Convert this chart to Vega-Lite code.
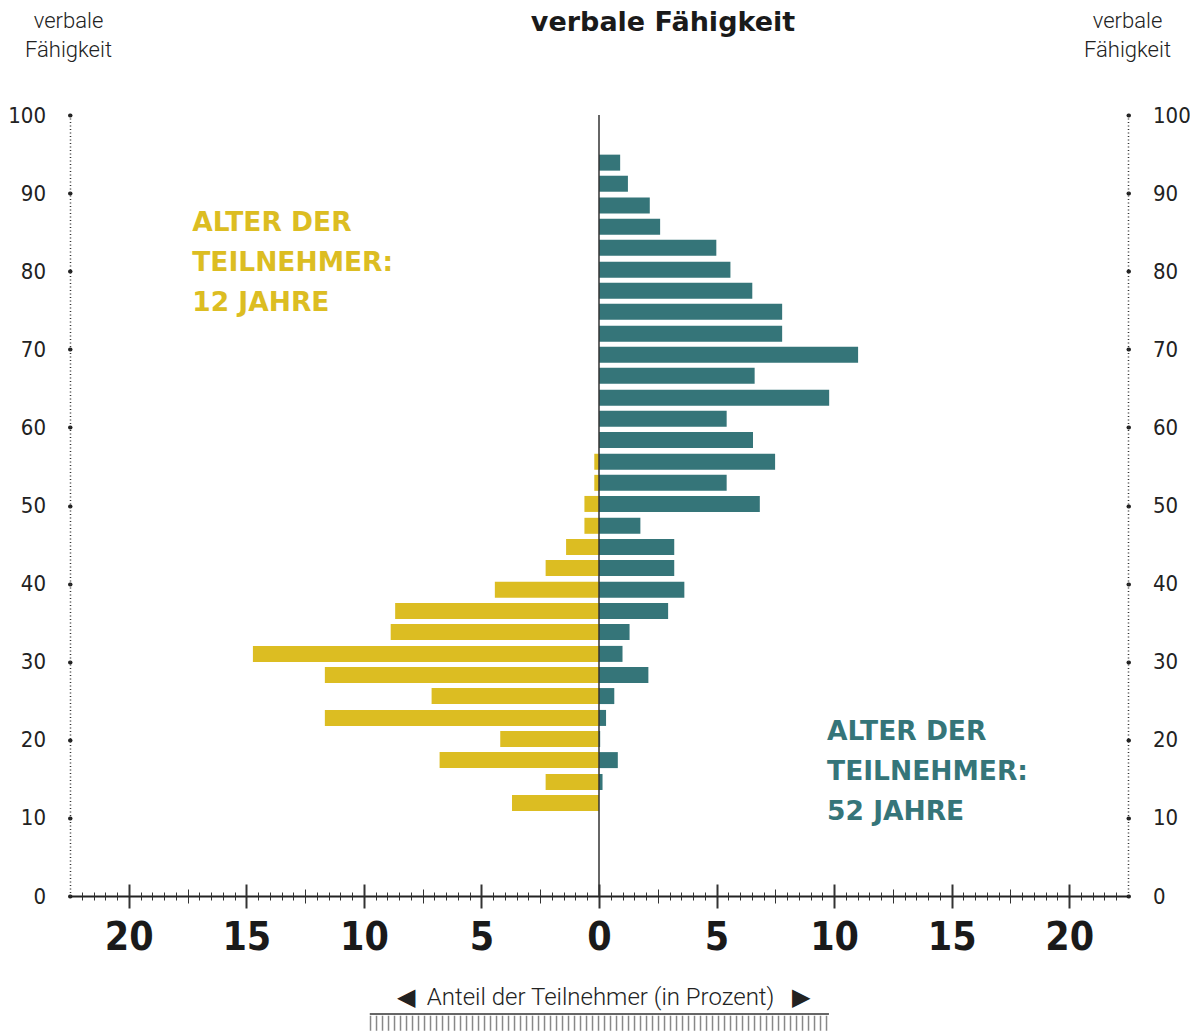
{
  "$schema": "https://vega.github.io/schema/vega-lite/v6.json",
  "width": 1058,
  "height": 781,
  "autosize": {"type": "none"},
  "padding": {"left": 70, "top": 115, "right": 62, "bottom": 135},
  "background": "white",
  "config": {"view": {"stroke": null}},
  "title": {"text": "verbale Fähigkeit", "font": "DejaVu Sans", "fontSize": 27, "fontWeight": "bold", "color": "#1a1a1a", "anchor": "middle", "frame": "group", "dx": 64, "offset": -49, "baseline": "alphabetic"},
  "datasets": {
    "anteile": [
      {"faehigkeit": 93.9, "anteil": 0.9, "alter": "52 Jahre"},
      {"faehigkeit": 91.2, "anteil": 1.23, "alter": "52 Jahre"},
      {"faehigkeit": 88.4, "anteil": 2.16, "alter": "52 Jahre"},
      {"faehigkeit": 85.7, "anteil": 2.6, "alter": "52 Jahre"},
      {"faehigkeit": 83.0, "anteil": 4.99, "alter": "52 Jahre"},
      {"faehigkeit": 80.2, "anteil": 5.59, "alter": "52 Jahre"},
      {"faehigkeit": 77.5, "anteil": 6.52, "alter": "52 Jahre"},
      {"faehigkeit": 74.8, "anteil": 7.79, "alter": "52 Jahre"},
      {"faehigkeit": 72.0, "anteil": 7.79, "alter": "52 Jahre"},
      {"faehigkeit": 69.3, "anteil": 11.02, "alter": "52 Jahre"},
      {"faehigkeit": 66.6, "anteil": 6.62, "alter": "52 Jahre"},
      {"faehigkeit": 63.8, "anteil": 9.79, "alter": "52 Jahre"},
      {"faehigkeit": 61.1, "anteil": 5.43, "alter": "52 Jahre"},
      {"faehigkeit": 58.4, "anteil": 6.55, "alter": "52 Jahre"},
      {"faehigkeit": 55.6, "anteil": 7.49, "alter": "52 Jahre"},
      {"faehigkeit": 52.9, "anteil": 5.43, "alter": "52 Jahre"},
      {"faehigkeit": 50.2, "anteil": 6.84, "alter": "52 Jahre"},
      {"faehigkeit": 47.4, "anteil": 1.76, "alter": "52 Jahre"},
      {"faehigkeit": 44.7, "anteil": 3.2, "alter": "52 Jahre"},
      {"faehigkeit": 42.0, "anteil": 3.2, "alter": "52 Jahre"},
      {"faehigkeit": 39.2, "anteil": 3.63, "alter": "52 Jahre"},
      {"faehigkeit": 36.5, "anteil": 2.94, "alter": "52 Jahre"},
      {"faehigkeit": 33.8, "anteil": 1.3, "alter": "52 Jahre"},
      {"faehigkeit": 31.0, "anteil": 1.0, "alter": "52 Jahre"},
      {"faehigkeit": 28.3, "anteil": 2.1, "alter": "52 Jahre"},
      {"faehigkeit": 25.6, "anteil": 0.65, "alter": "52 Jahre"},
      {"faehigkeit": 22.8, "anteil": 0.3, "alter": "52 Jahre"},
      {"faehigkeit": 20.1, "anteil": 0.05, "alter": "52 Jahre"},
      {"faehigkeit": 17.4, "anteil": 0.8, "alter": "52 Jahre"},
      {"faehigkeit": 14.6, "anteil": 0.15, "alter": "52 Jahre"},
      {"faehigkeit": 55.6, "anteil": -0.2, "alter": "12 Jahre"},
      {"faehigkeit": 52.9, "anteil": -0.2, "alter": "12 Jahre"},
      {"faehigkeit": 50.2, "anteil": -0.62, "alter": "12 Jahre"},
      {"faehigkeit": 47.4, "anteil": -0.62, "alter": "12 Jahre"},
      {"faehigkeit": 44.7, "anteil": -1.4, "alter": "12 Jahre"},
      {"faehigkeit": 42.0, "anteil": -2.27, "alter": "12 Jahre"},
      {"faehigkeit": 39.2, "anteil": -4.43, "alter": "12 Jahre"},
      {"faehigkeit": 36.5, "anteil": -8.67, "alter": "12 Jahre"},
      {"faehigkeit": 33.8, "anteil": -8.86, "alter": "12 Jahre"},
      {"faehigkeit": 31.0, "anteil": -14.72, "alter": "12 Jahre"},
      {"faehigkeit": 28.3, "anteil": -11.66, "alter": "12 Jahre"},
      {"faehigkeit": 25.6, "anteil": -7.12, "alter": "12 Jahre"},
      {"faehigkeit": 22.8, "anteil": -11.66, "alter": "12 Jahre"},
      {"faehigkeit": 20.1, "anteil": -4.2, "alter": "12 Jahre"},
      {"faehigkeit": 17.4, "anteil": -6.78, "alter": "12 Jahre"},
      {"faehigkeit": 14.6, "anteil": -2.27, "alter": "12 Jahre"},
      {"faehigkeit": 11.9, "anteil": -3.7, "alter": "12 Jahre"}
    ]
  },
  "layer": [
    {
      "data": {"name": "anteile"},
      "mark": {"type": "bar", "orient": "horizontal", "size": 16},
      "encoding": {
        "y": {
          "field": "faehigkeit", "type": "quantitative",
          "scale": {"domain": [0, 100], "nice": false, "padding": 0},
          "axis": {
            "orient": "left", "values": [0, 10, 20, 30, 40, 50, 60, 70, 80, 90, 100], "grid": false,
            "domainDash": [1, 2.5], "domainColor": "#333", "domainWidth": 1.5,
            "tickSize": 0.5, "tickWidth": 4, "tickCap": "round", "tickColor": "#222",
            "labelFont": "DejaVu Sans Condensed", "labelFontSize": 22, "labelColor": "#222", "labelPadding": 24,
            "title": ["verbale", "Fähigkeit"], "titleAngle": 0, "titleAlign": "center", "titleBaseline": "alphabetic",
            "titleX": -2, "titleY": -88, "titleFont": "Roboto", "titleFontWeight": 300, "titleFontSize": 22, "titleLineHeight": 29, "titleColor": "#222"
          }
        },
        "x": {
          "field": "anteil", "type": "quantitative",
          "scale": {"domain": [-22.5, 22.5], "nice": false, "padding": 0},
          "axis": {
            "orient": "bottom",
            "values": [-22,-21.5,-21,-20.5,-20,-19.5,-19,-18.5,-18,-17.5,-17,-16.5,-16,-15.5,-15,-14.5,-14,-13.5,-13,-12.5,-12,-11.5,-11,-10.5,-10,-9.5,-9,-8.5,-8,-7.5,-7,-6.5,-6,-5.5,-5,-4.5,-4,-3.5,-3,-2.5,-2,-1.5,-1,-0.5,0,0.5,1,1.5,2,2.5,3,3.5,4,4.5,5,5.5,6,6.5,7,7.5,8,8.5,9,9.5,10,10.5,11,11.5,12,12.5,13,13.5,14,14.5,15,15.5,16,16.5,17,17.5,18,18.5,19,19.5,20,20.5,21,21.5,22],
            "grid": false,
            "domainColor": "#222", "domainWidth": 2,
            "tickColor": "#333",
            "tickSize": {"condition": [{"test": "datum.value % 5 === 0", "value": 12}, {"test": "datum.value % 2.5 === 0", "value": 7}], "value": 4},
            "tickWidth": {"condition": {"test": "datum.value % 5 === 0", "value": 2}, "value": 1},
            "labelExpr": "datum.value % 5 === 0 ? '' + abs(datum.value) : ''",
            "labelOverlap": false, "labelFlush": false,
            "labelFont": "DejaVu Sans Condensed", "labelFontWeight": "bold", "labelFontSize": 39, "labelColor": "#1a1a1a", "labelPadding": 10,
            "title": "◀\u00a0 Anteil der Teilnehmer (in Prozent) \u00a0\u00a0▶",
            "titleFont": "Roboto", "titleFontWeight": 300, "titleFontSize": 24, "titleColor": "#222",
            "titleX": 533, "titleY": 108, "titleBaseline": "alphabetic", "titleAlign": "center"
          }
        },
        "x2": {"datum": 0},
        "color": {"field": "alter", "type": "nominal", "scale": {"domain": ["12 Jahre", "52 Jahre"], "range": ["#dcbd22", "#357579"]}, "legend": null}
      }
    },
    {
      "data": {"values": [{}]},
      "mark": {"type": "rule", "color": "#333", "strokeWidth": 1.5},
      "encoding": {
        "x": {"datum": 0, "type": "quantitative", "scale": {"domain": [-22.5, 22.5], "nice": false, "padding": 0}, "axis": null}
      }
    },
    {
      "data": {"values": [{}]},
      "mark": {"type": "text", "text": ["ALTER DER", "TEILNEHMER:", "12 JAHRE"], "align": "left", "baseline": "alphabetic", "font": "DejaVu Sans", "fontWeight": "bold", "fontSize": 26.5, "lineHeight": 40, "color": "#dcbd22"},
      "encoding": {
        "x": {
          "datum": -17.3, "type": "quantitative", "scale": {"domain": [-22.5, 22.5], "nice": false, "padding": 0},
          "axis": {
            "orient": "top", "offset": -781,
            "values": [-22,-21.5,-21,-20.5,-20,-19.5,-19,-18.5,-18,-17.5,-17,-16.5,-16,-15.5,-15,-14.5,-14,-13.5,-13,-12.5,-12,-11.5,-11,-10.5,-10,-9.5,-9,-8.5,-8,-7.5,-7,-6.5,-6,-5.5,-5,-4.5,-4,-3.5,-3,-2.5,-2,-1.5,-1,-0.5,0,0.5,1,1.5,2,2.5,3,3.5,4,4.5,5,5.5,6,6.5,7,7.5,8,8.5,9,9.5,10,10.5,11,11.5,12,12.5,13,13.5,14,14.5,15,15.5,16,16.5,17,17.5,18,18.5,19,19.5,20,20.5,21,21.5,22],
            "grid": false, "domain": false, "labels": false, "title": null,
            "tickColor": "#333",
            "tickSize": {"condition": [{"test": "datum.value % 5 === 0", "value": 12}, {"test": "datum.value % 2.5 === 0", "value": 7}], "value": 4},
            "tickWidth": {"condition": {"test": "datum.value % 5 === 0", "value": 2}, "value": 1}
          }
        },
        "y": {"datum": 85.15, "type": "quantitative", "scale": {"domain": [0, 100], "nice": false, "padding": 0}, "axis": null}
      }
    },
    {
      "data": {"values": [{}]},
      "mark": {"type": "text", "text": ["ALTER DER", "TEILNEHMER:", "52 JAHRE"], "align": "left", "baseline": "alphabetic", "font": "DejaVu Sans", "fontWeight": "bold", "fontSize": 26.5, "lineHeight": 40, "color": "#357579"},
      "encoding": {
        "x": {"datum": 9.7, "type": "quantitative", "scale": {"domain": [-22.5, 22.5], "nice": false, "padding": 0}, "axis": null},
        "y": {
          "datum": 20.0, "type": "quantitative", "scale": {"domain": [0, 100], "nice": false, "padding": 0},
          "axis": {
            "orient": "right", "values": [0, 10, 20, 30, 40, 50, 60, 70, 80, 90, 100], "grid": false,
            "domainDash": [1, 2.5], "domainColor": "#333", "domainWidth": 1.5,
            "tickSize": 0.5, "tickWidth": 4, "tickCap": "round", "tickColor": "#222",
            "labelFont": "DejaVu Sans Condensed", "labelFontSize": 22, "labelColor": "#222", "labelPadding": 24,
            "title": ["verbale", "Fähigkeit"], "titleAngle": 0, "titleAlign": "center", "titleBaseline": "alphabetic",
            "titleX": -1, "titleY": -88, "titleFont": "Roboto", "titleFontWeight": 300, "titleFontSize": 22, "titleLineHeight": 29, "titleColor": "#222"
          }
        }
      }
    },
    {
      "data": {"values": [{}]},
      "mark": {"type": "rule", "color": "#333", "strokeWidth": 1.5},
      "encoding": {
        "x": {"datum": -9.75, "type": "quantitative", "scale": {"domain": [-22.5, 22.5], "nice": false, "padding": 0}, "axis": null},
        "x2": {"datum": 9.78},
        "y": {"datum": -15.1, "type": "quantitative", "scale": {"domain": [0, 100], "nice": false, "padding": 0}, "axis": null}
      }
    },
    {
      "data": {"values": [{}]},
      "mark": {"type": "rule", "color": "#888", "strokeWidth": 15, "strokeDash": [1.5, 4.5]},
      "encoding": {
        "x": {"datum": -9.75, "type": "quantitative", "scale": {"domain": [-22.5, 22.5], "nice": false, "padding": 0}, "axis": null},
        "x2": {"datum": 9.78},
        "y": {"datum": -16.3, "type": "quantitative", "scale": {"domain": [0, 100], "nice": false, "padding": 0}, "axis": null}
      }
    }
  ],
  "resolve": {"axis": {"x": "independent", "y": "independent"}}
}
